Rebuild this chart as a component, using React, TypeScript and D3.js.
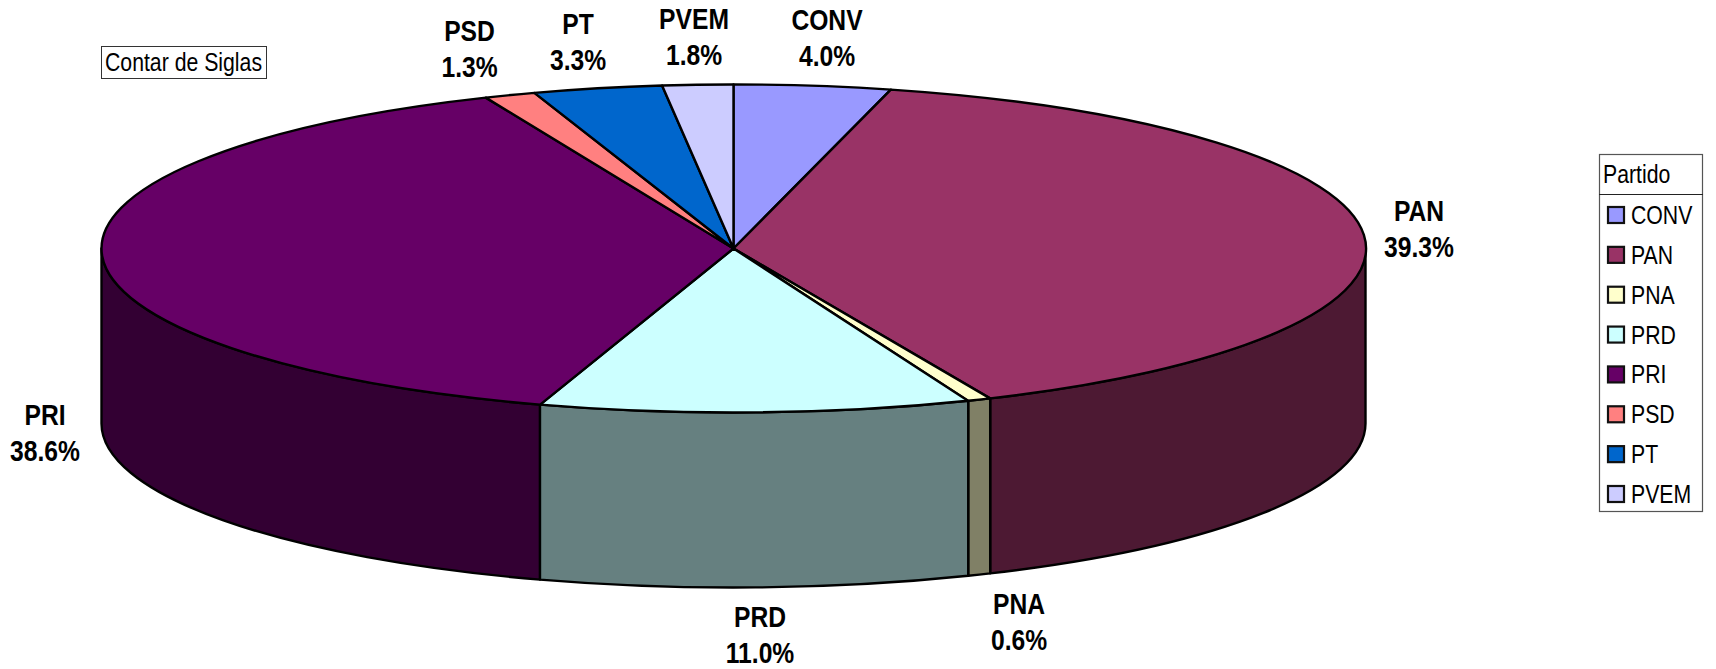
import React, { useEffect } from "react";
import * as d3 from "d3";

const parties = ["CONV", "PAN", "PNA", "PRD", "PRI", "PSD", "PT", "PVEM"];
const shares = [4.0, 39.3, 0.6, 11.0, 38.6, 1.3, 3.3, 1.8];
const topColors = ["#9999FF", "#993366", "#FFFFCC", "#CCFFFF", "#660066", "#FF8080", "#0066CC", "#CCCCFF"];
const sideColors = ["#4D4D80", "#4D1933", "#808066", "#668080", "#330033", "#804040", "#003366", "#666680"];
const chartTitle = "Contar de Siglas";
const legendTitle = "Partido";

const W = 1716, H = 669;
const cx = 733.5, cy = 248.5, rx = 632, ry = 164, depth = 175;
const labelAnchors: Record<string, [number, number]> = {
  CONV: [827, 20], PAN: [1419, 211], PNA: [1019, 604], PRD: [760, 617],
  PRI: [45, 415], PSD: [469.5, 31], PT: [578, 24], PVEM: [694, 19],
};
const FONT = "'Liberation Sans',Arial,sans-serif";
const NARROW = 0.85;

function Narrow({ x, y, size, bold, anchor, children }: any) {
  return (
    <text
      transform={`translate(${x},${y}) scale(${NARROW},1)`}
      fontFamily={FONT}
      fontSize={size}
      fontWeight={bold ? "bold" : "normal"}
      textAnchor={anchor ?? "start"}
      fill="#000"
    >
      {children}
    </text>
  );
}

export default function App() {
  useEffect(() => {
    document.body.style.margin = "0";
    document.body.style.overflow = "hidden";
  }, []);

  const pie = d3.pie<number>().sort(null).value((d) => d);
  const slices = pie(shares);
  const arc = d3.arc<d3.PieArcDatum<number>>().innerRadius(0).outerRadius(1);
  const d = depth / ry;
  const legendY = d3.scalePoint<string>().domain(parties).range([215, 494]);

  const sidePath = (a0: number, a1: number) => {
    const s = Math.max(a0, Math.PI / 2), e = Math.min(a1, (3 * Math.PI) / 2);
    if (e <= s) return null;
    const p = d3.path();
    p.moveTo(Math.sin(s), -Math.cos(s));
    p.arc(0, 0, 1, s - Math.PI / 2, e - Math.PI / 2);
    p.lineTo(Math.sin(e), -Math.cos(e) + d);
    p.arc(0, d, 1, e - Math.PI / 2, s - Math.PI / 2, true);
    p.closePath();
    return p.toString();
  };

  return (
    <svg width={W} height={H} viewBox={`0 0 ${W} ${H}`} style={{ position: "fixed", left: 0, top: 0, background: "#fff" }}>
      <g transform={`translate(${cx},${cy}) scale(${rx},${ry})`}>
        {slices.map((s, i) => {
          const path = sidePath(s.startAngle, s.endAngle);
          return path ? (
            <path key={parties[i]} d={path} fill={sideColors[i]} stroke="#000" strokeWidth={2.4} vectorEffect="non-scaling-stroke" strokeLinejoin="round" />
          ) : null;
        })}
        {slices.map((s, i) => (
          <path key={parties[i]} d={arc(s) as string} fill={topColors[i]} stroke="#000" strokeWidth={2.4} vectorEffect="non-scaling-stroke" strokeLinejoin="round" />
        ))}
      </g>

      {parties.map((name, i) => {
        const [x, y] = labelAnchors[name];
        return (
          <g key={name}>
            <Narrow x={x} y={y + 10} size={29} bold anchor="middle">{name}</Narrow>
            <Narrow x={x} y={y + 46} size={29} bold anchor="middle">{shares[i].toFixed(1) + "%"}</Narrow>
          </g>
        );
      })}

      <rect x={101.5} y={46.5} width={165} height={32} fill="#fff" stroke="#333" strokeWidth={1} />
      <Narrow x={105} y={71} size={25}>{chartTitle}</Narrow>

      <rect x={1599.5} y={154.5} width={103} height={357} fill="#fff" stroke="#555" strokeWidth={1.2} />
      <line x1={1599} x2={1703} y1={194.5} y2={194.5} stroke="#222" strokeWidth={1.2} />
      <Narrow x={1603} y={183} size={25}>{legendTitle}</Narrow>
      {parties.map((name, i) => {
        const y = legendY(name) as number;
        return (
          <g key={name}>
            <rect x={1608} y={y - 8} width={16} height={16} fill={topColors[i]} stroke="#111" strokeWidth={2.2} />
            <Narrow x={1631} y={y + 9} size={25}>{name}</Narrow>
          </g>
        );
      })}
    </svg>
  );
}
